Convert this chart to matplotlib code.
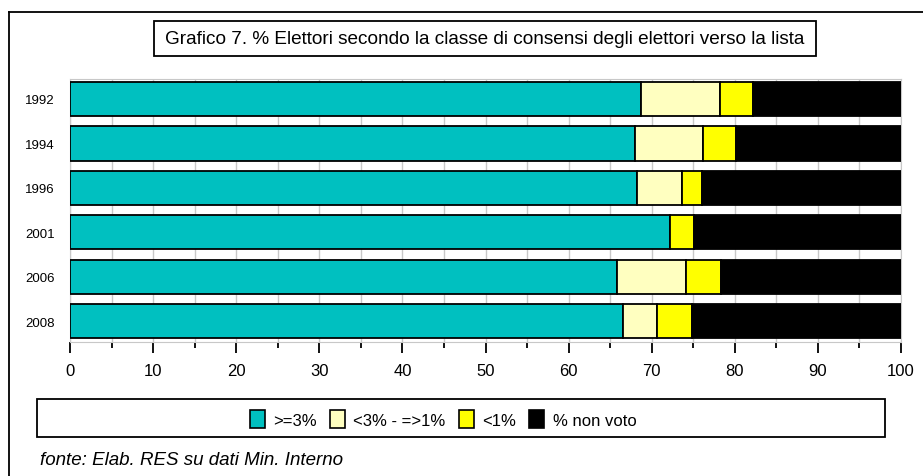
import matplotlib
matplotlib.use("Agg")
import matplotlib.pyplot as plt
from matplotlib.patches import Rectangle, Patch
from matplotlib.lines import Line2D
from matplotlib.ticker import MultipleLocator
import numpy as np

# data (percent of voters)
years = ["1992", "1994", "1996", "2001", "2006", "2008"]
alto = [68.7, 68.0, 68.2, 72.2, 65.8, 66.5]          # >=3%
medio = [9.5, 8.2, 5.4, 0.0, 8.3, 4.1]               # <3% - =>1%
basso = [4.0, 3.9, 2.4, 2.9, 4.2, 4.3]               # <1%
non_voto = [17.8, 19.9, 24.0, 24.9, 21.7, 25.1]      # % non voto

labels = [">=3%", "<3% - =>1%", "<1%", "% non voto"]
colors = ["#00c0c0", "#ffffc0", "#ffff00", "#000000"]

W, H = 923, 477
SANS = ["Liberation Sans", "DejaVu Sans"]


def fx(x):
    return x / W


def fy(y):
    return 1 - y / H


fig = plt.figure(figsize=(W / 100, H / 100), dpi=100)
fig.patch.set_facecolor("white")

ax = fig.add_axes([fx(70), fy(343), fx(901) - fx(70), fy(80) - fy(343)])

y = np.arange(len(years))
left = np.zeros(len(years))
for vals, col in zip([alto, medio, basso, non_voto], colors):
    ax.barh(y, vals, left=left, height=0.77, color=col,
            edgecolor="black", linewidth=1.3, zorder=3)
    left += np.array(vals)

ax.set_xlim(0, 100)
ax.set_ylim(5.47, -0.45)
ax.set_yticks(y)
ax.set_yticklabels(years, family=SANS, fontsize=9.5)
ax.tick_params(axis="y", length=0, pad=11)

ax.xaxis.set_major_locator(MultipleLocator(10))
ax.xaxis.set_minor_locator(MultipleLocator(5))
ax.tick_params(axis="x", which="major", length=8, width=1.3, direction="out",
               labelsize=12, pad=7)
ax.tick_params(axis="x", which="minor", length=4, width=1.3, direction="out")
for lab in ax.get_xticklabels():
    lab.set_family(SANS)
ax.grid(axis="x", which="both", color="#c8c8c8", linewidth=1, zorder=0)
for side in ["top", "right", "left", "bottom"]:
    ax.spines[side].set_color("#c8c8c8")

# outer frame (left and top edges)
fig.add_artist(Line2D([fx(9), fx(9)], [fy(13), 0], color="black", linewidth=1.3))
fig.add_artist(Line2D([fx(9), 1], [fy(13), fy(13)], color="black", linewidth=1.3))

# title box
fig.add_artist(Rectangle((fx(154), fy(57)), fx(816) - fx(154), fy(22) - fy(57),
                         transform=fig.transFigure, facecolor="white",
                         edgecolor="black", linewidth=1.3))
fig.text(fx(485), fy(40),
         "Grafico 7. % Elettori secondo la classe di consensi degli elettori verso la lista",
         ha="center", va="center", fontsize=13.7, family=SANS)

# legend box
fig.add_artist(Rectangle((fx(37), fy(438)), fx(885) - fx(37), fy(400) - fy(438),
                         transform=fig.transFigure, facecolor="white",
                         edgecolor="black", linewidth=1.3))
handles = [Patch(facecolor=c, edgecolor="black", linewidth=1.2) for c in colors]
fig.legend(handles, labels, loc="center", bbox_to_anchor=(fx(443), fy(420)),
           ncol=4, frameon=False, handlelength=0.9, handleheight=1.3,
           handletextpad=0.5, columnspacing=0.8,
           prop={"family": SANS, "size": 12})

fig.text(fx(40), fy(461), "fonte: Elab. RES su dati Min. Interno",
         ha="left", va="center", fontsize=13.5, style="italic", family=SANS)

fig.savefig("out.png", dpi=100)
